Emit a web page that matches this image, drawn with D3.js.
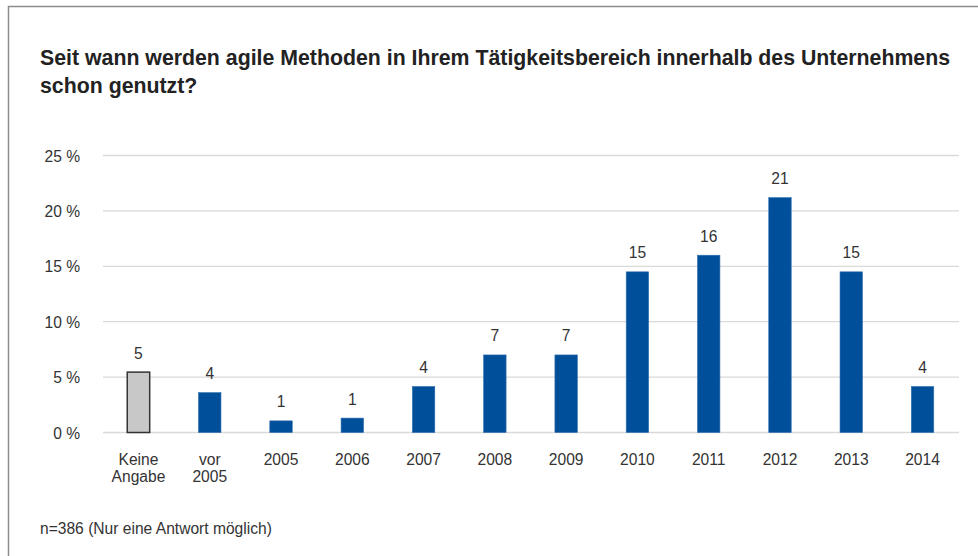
<!DOCTYPE html>
<html><head><meta charset="utf-8">
<script src="https://cdn.jsdelivr.net/npm/d3@7"></script>
<style>body{margin:0;background:#fff;}svg{display:block;font-family:"Liberation Sans",Arial,sans-serif;}</style>
</head><body><svg id="c" width="978" height="556"></svg>
<script>
const categories = ["Keine\nAngabe","vor\n2005","2005","2006","2007","2008","2009","2010","2011","2012","2013","2014"];
const values = [5.45, 3.6, 1.05, 1.3, 4.15, 7.0, 7.0, 14.5, 16.0, 21.2, 14.5, 4.15];
const valueLabels = ["5","4","1","1","4","7","7","15","16","21","15","4"];
const yTicks = [0, 5, 10, 15, 20, 25];
const title = ["Seit wann werden agile Methoden in Ihrem Tätigkeitsbereich innerhalb des Unternehmens","schon genutzt?"];
const note = "n=386 (Nur eine Antwort möglich)";

const FS = 15.6;
const svg = d3.select("#c");
svg.append("rect").attr("x",8.5).attr("y",6.5).attr("width",1000).attr("height",600)
  .attr("fill","#fff").attr("stroke","#8c8c8c").attr("stroke-width",1.5);

const x = d3.scaleBand().domain(categories).range([103,958]).paddingInner(0.685).paddingOuter(0.34);
const y = d3.scaleLinear().domain([0,25]).range([432.5,155.5]);

const tg = svg.append("text").attr("x",40).attr("font-weight","bold").attr("font-size",21.3).attr("fill","#222");
title.forEach((t,i)=>tg.append("tspan").attr("x",40).attr("y",64.5+i*28.5).text(t));

// grid
svg.append("g").selectAll("line").data(yTicks).join("line")
  .attr("x1",103).attr("x2",959).attr("y1",d=>y(d)).attr("y2",d=>y(d))
  .attr("stroke","#d9d9d9").attr("stroke-width",1.3);

const yAxis = svg.append("g").attr("transform","translate(80,0)")
  .call(d3.axisLeft(y).tickValues(yTicks).tickSize(0).tickPadding(0).tickFormat(d=>d+" %"));
yAxis.select(".domain").remove();
yAxis.selectAll("text").attr("font-size",FS).attr("fill","#333").attr("font-family","Liberation Sans, Arial, sans-serif").attr("dy","0.36em");

// bars
svg.append("g").selectAll("rect").data(values).join("rect")
  .attr("x",(d,i)=>x(categories[i])).attr("width",x.bandwidth())
  .attr("y",d=>y(d)).attr("height",d=>y(0)-y(d))
  .attr("fill",(d,i)=>i===0?"#c8c8c8":"#004f9a")
  .attr("stroke",(d,i)=>i===0?"#333":"#2f6fb0").attr("stroke-width",(d,i)=>i===0?1.5:0.6);

// value labels
svg.append("g").selectAll("text").data(values).join("text")
  .attr("x",(d,i)=>x(categories[i])+x.bandwidth()/2).attr("y",d=>y(d)-13.5)
  .attr("text-anchor","middle").attr("font-size",FS).attr("fill","#333")
  .text((d,i)=>valueLabels[i]);

// x axis labels
const xg = svg.append("g").attr("transform","translate(0,432.5)")
  .call(d3.axisBottom(x).tickSize(0).tickPadding(0).tickFormat(""));
xg.select(".domain").remove();
xg.selectAll(".tick").each(function(d){
  const t = d3.select(this).append("text").attr("text-anchor","middle").attr("font-size",FS).attr("fill","#333")
    .attr("font-family","Liberation Sans, Arial, sans-serif");
  d.split("\n").forEach((s,i)=>t.append("tspan").attr("x",0).attr("y",32+i*17.5).text(s));
});

svg.append("text").attr("x",40).attr("y",534).attr("font-size",FS).attr("fill","#333").text(note);
</script></body></html>
